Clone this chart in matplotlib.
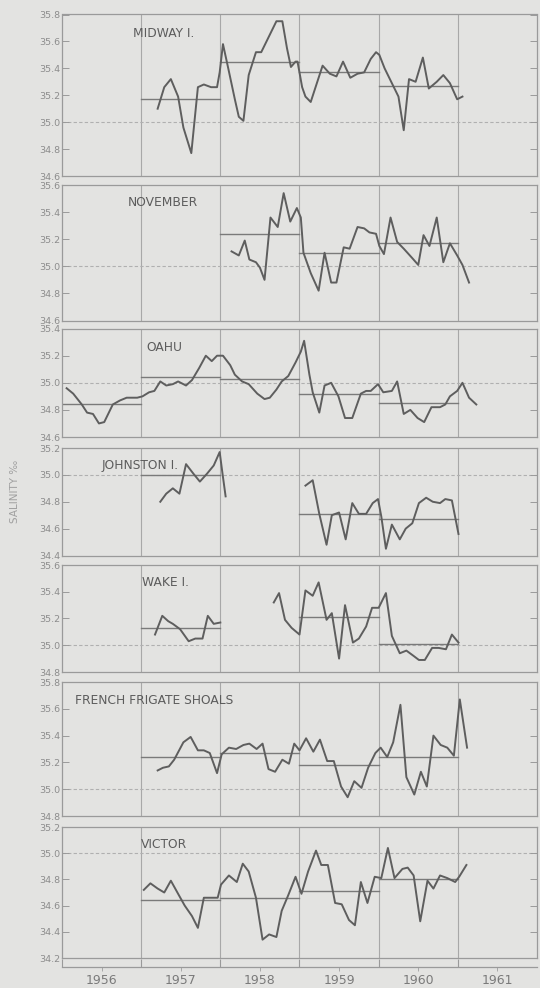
import numpy as np
import matplotlib.pyplot as plt

# salinity records, x in months since Jan 1956, NaN = gap in record
midway_m = [14.5, 15.5, 16.5, 17.6, 18.4, 19.6, 20.6, 21.5, 22.6, 23.5, 23.9, 24.4, 25.2, 26.2,
            26.8, 27.5, 28.3, 29.4, 30.2, 31.0, 32.5, 33.4, 34.1, 34.7, 35.4, 35.7, 36.4, 36.9,
            37.7, 38.5, 39.5, 40.6, 41.6, 42.6, 43.7, 44.8, 45.8, 46.8, 47.6, 48.1, 48.9, 50.0,
            51.0, 51.8, 52.6, 53.6, 54.7, 55.6, 56.8, 57.8, 58.8, 59.9, 60.7]
midway_s = [35.10, 35.26, 35.32, 35.19, 34.96, 34.77, 35.26, 35.28, 35.26, 35.26, 35.37, 35.58,
            35.40, 35.17, 35.04, 35.01, 35.35, 35.52, 35.52, 35.60, 35.75, 35.75, 35.55, 35.41,
            35.45, 35.45, 35.26, 35.19, 35.15, 35.27, 35.42, 35.36, 35.34, 35.45, 35.33, 35.36,
            35.37, 35.47, 35.52, 35.50, 35.40, 35.29, 35.19, 34.94, 35.32, 35.30, 35.48, 35.25,
            35.30, 35.35, 35.29, 35.17, 35.19]
midway_mean_yr = [1957, 1958, 1959, 1960]
midway_mean = [35.17, 35.45, 35.37, 35.27]

november_m = [25.7, 26.8, 27.7, 28.4, 29.4, 30.0, 30.7, 31.6, 32.7, 33.6, 34.6, 35.6, 36.2, 36.6,
              37.7, 38.9, 39.8, 40.8, 41.6, 42.7, 43.6, 44.8, 45.8, 46.6, 47.6, 48.1, 48.8, 49.8,
              50.8, 51.8, 53.1, 54.0, 54.8, 55.7, 56.8, 57.8, 58.8, 59.9, 60.7, 61.7]
november_s = [35.11, 35.08, 35.19, 35.05, 35.03, 34.99, 34.90, 35.36, 35.29, 35.54, 35.33, 35.43,
              35.36, 35.10, 34.95, 34.82, 35.10, 34.88, 34.88, 35.14, 35.13, 35.29, 35.28, 35.25,
              35.24, 35.15, 35.09, 35.36, 35.18, 35.13, 35.06, 35.01, 35.23, 35.15, 35.36, 35.03,
              35.17, 35.08, 35.01, 34.88]
november_mean_yr = [1958, 1959, 1960]
november_mean = [35.24, 35.10, 35.17]

oahu_m = [0.7, 1.7, 3.0, 3.8, 4.7, 5.6, 6.4, 7.7, 8.8, 9.8, 11.4, 12.2, 13.2, 14.0, 14.9, 15.8,
          16.8, 17.6, 18.8, 19.7, 20.8, 21.8, 22.7, 23.5, 24.4, 25.5, 26.2, 27.3, 28.3, 29.6,
          30.7, 31.5, 32.5, 33.3, 34.3, 35.4, 36.2, 36.7, 37.5, 38.0, 39.0, 39.8, 40.8, 41.9,
          42.9, 44.0, 45.3, 46.1, 46.8, 47.9, 48.7, 50.0, 50.8, 51.8, 52.8, 53.9, 54.9, 56.0,
          57.3, 58.1, 58.8, 59.9, 60.7, 61.7, 62.8]
oahu_s = [34.96, 34.92, 34.84, 34.78, 34.77, 34.70, 34.71, 34.84, 34.87, 34.89, 34.89, 34.90,
          34.93, 34.94, 35.01, 34.98, 34.99, 35.01, 34.98, 35.02, 35.11, 35.20, 35.16, 35.20,
          35.20, 35.13, 35.06, 35.01, 34.99, 34.92, 34.88, 34.89, 34.95, 35.01, 35.05, 35.15,
          35.23, 35.31, 35.06, 34.93, 34.78, 34.98, 35.00, 34.90, 34.74, 34.74, 34.92, 34.94,
          34.94, 34.99, 34.93, 34.94, 35.01, 34.77, 34.80, 34.74, 34.71, 34.82, 34.82, 34.84,
          34.90, 34.94, 35.00, 34.89, 34.84]
oahu_mean_yr = [1956, 1957, 1958, 1959, 1960]
oahu_mean = [34.84, 35.04, 35.03, 34.92, 34.85]

johnston_m = [14.9, 15.8, 16.8, 17.8, 18.8, 19.9, 20.9, 22.0, 23.0, 23.9, 24.3, 24.8, np.nan,
              36.9, 38.0, 39.0, 40.1, 40.9, 42.0, 43.0, 44.0, 45.0, 46.1, 47.1, 47.9, 48.4,
              49.1, 50.0, 51.2, 52.1, 53.1, 54.1, 55.2, 56.2, 57.3, 58.1, 59.1, 60.1]
johnston_s = [34.80, 34.86, 34.90, 34.86, 35.08, 35.01, 34.95, 35.01, 35.07, 35.17, 35.02, 34.84,
              np.nan, 34.92, 34.96, 34.71, 34.48, 34.70, 34.72, 34.52, 34.79, 34.71, 34.71,
              34.79, 34.82, 34.69, 34.45, 34.63, 34.52, 34.60, 34.64, 34.79, 34.83, 34.80,
              34.79, 34.82, 34.81, 34.56]
johnston_mean_yr = [1957, 1959, 1960]
johnston_mean = [35.00, 34.71, 34.67]

wake_m = [14.1, 15.2, 16.1, 16.8, 17.9, 19.2, 20.2, 21.3, 22.1, 23.0, 24.0, np.nan,
          32.1, 32.9, 33.8, 34.8, 36.0, 36.9, 38.0, 38.9, 40.1, 40.9, 42.0, 42.9, 44.1, 45.0,
          46.1, 47.0, 48.0, 49.1, 50.0, 51.2, 52.2, 53.3, 54.1, 55.0, 56.1, 57.1, 58.2, 59.1, 60.1]
wake_s = [35.08, 35.22, 35.18, 35.16, 35.12, 35.03, 35.05, 35.05, 35.22, 35.16, 35.17, np.nan,
          35.32, 35.39, 35.19, 35.13, 35.08, 35.41, 35.37, 35.47, 35.19, 35.24, 34.90, 35.30,
          35.02, 35.05, 35.14, 35.28, 35.28, 35.39, 35.07, 34.94, 34.96, 34.92, 34.89, 34.89,
          34.98, 34.98, 34.97, 35.08, 35.02]
wake_mean_yr = [1957, 1959, 1960]
wake_mean = [35.13, 35.21, 35.01]

ffs_m = [14.5, 15.3, 16.2, 17.0, 18.4, 19.5, 20.6, 21.5, 22.4, 23.5, 24.2, 25.3, 26.4, 27.5,
         28.4, 29.5, 30.4, 31.3, 32.3, 33.4, 34.4, 35.2, 36.0, 37.0, 38.1, 39.1, 40.2, 41.2,
         42.3, 43.3, 44.3, 45.4, 46.4, 47.5, 48.3, 49.3, 50.2, 51.3, 52.2, 53.4, 54.4, 55.3,
         56.3, 57.4, 58.4, 59.4, 60.3, 61.4]
ffs_s = [35.14, 35.16, 35.17, 35.22, 35.35, 35.39, 35.29, 35.29, 35.27, 35.12, 35.26, 35.31,
         35.30, 35.33, 35.34, 35.30, 35.34, 35.15, 35.13, 35.22, 35.19, 35.34, 35.29, 35.38,
         35.28, 35.37, 35.21, 35.21, 35.02, 34.94, 35.06, 35.01, 35.16, 35.27, 35.31, 35.24,
         35.35, 35.63, 35.09, 34.96, 35.13, 35.02, 35.40, 35.33, 35.31, 35.25, 35.67, 35.31]
ffs_mean_yr = [1957, 1958, 1959, 1960]
ffs_mean = [35.24, 35.27, 35.18, 35.24]

victor_m = [12.4, 13.4, 14.5, 15.5, 16.5, 17.6, 18.6, 19.7, 20.6, 21.5, 22.6, 23.6, 24.1, 25.3,
            26.5, 27.4, 28.3, 29.4, 30.4, 31.4, 32.5, 33.3, 34.3, 35.4, 36.3, 37.3, 38.5, 39.3,
            40.3, 41.4, 42.4, 43.5, 44.4, 45.3, 46.3, 47.4, 48.4, 49.4, 50.4, 51.6, 52.4, 53.3,
            54.3, 55.4, 56.3, 57.3, 58.4, 59.6, 60.2, 61.3]
victor_s = [34.72, 34.77, 34.73, 34.70, 34.79, 34.69, 34.60, 34.52, 34.43, 34.66, 34.66, 34.66,
            34.76, 34.83, 34.78, 34.92, 34.86, 34.66, 34.34, 34.38, 34.36, 34.56, 34.68, 34.82,
            34.69, 34.86, 35.02, 34.91, 34.91, 34.62, 34.61, 34.49, 34.45, 34.78, 34.62, 34.82,
            34.81, 35.04, 34.81, 34.88, 34.89, 34.83, 34.48, 34.79, 34.73, 34.83, 34.81, 34.78,
            34.82, 34.91]
victor_mean_yr = [1957, 1958, 1959, 1960]
victor_mean = [34.64, 34.66, 34.71, 34.80]

names = ["MIDWAY I.", "NOVEMBER", "OAHU", "JOHNSTON I.", "WAKE I.",
         "FRENCH FRIGATE SHOALS", "VICTOR"]
months = [midway_m, november_m, oahu_m, johnston_m, wake_m, ffs_m, victor_m]
sal = [midway_s, november_s, oahu_s, johnston_s, wake_s, ffs_s, victor_s]
mean_yr = [midway_mean_yr, november_mean_yr, oahu_mean_yr, johnston_mean_yr,
           wake_mean_yr, ffs_mean_yr, victor_mean_yr]
means = [midway_mean, november_mean, oahu_mean, johnston_mean, wake_mean,
         ffs_mean, victor_mean]
ylims = [(34.6, 35.8), (34.6, 35.6), (34.6, 35.4), (34.4, 35.2),
         (34.8, 35.6), (34.8, 35.8), (34.2, 35.2)]
years = [1956, 1957, 1958, 1959, 1960, 1961]

# label placement (x in years, y in salinity)
label_pos = [(1956.9, 35.66), (1956.83, 35.47), (1957.07, 35.26), (1956.5, 35.07),
             (1957.01, 35.47), (1956.16, 35.66), (1957.0, 35.07)]

# panel tops/bottoms in pixels of the 540x988 figure
tops = [14.5, 185, 328.6, 448, 565, 682, 827]
bots = [176, 320.5, 437, 555.5, 672, 816, 958]

bg = '#e3e3e1'
plt.rcParams['font.family'] = ['DejaVu Sans']
fig = plt.figure(figsize=(5.4, 9.88), dpi=100, facecolor=bg)

H = 988.0
left, width = 62 / 540, (537 - 62) / 540
axes = []
for i in range(7):
    ax = fig.add_axes([left, 1 - bots[i] / H, width, (bots[i] - tops[i]) / H])
    ax.set_facecolor(bg)
    lo, hi = ylims[i]
    ax.set_xlim(1956, 1962)
    ax.set_ylim(lo, hi)

    for yb in years[1:]:
        ax.axvline(yb, color='#a8a8a8', lw=0.8, zorder=1)
    ax.axhline(35.0, color='#b0b0b0', lw=0.8, ls=(0, (3, 2)), zorder=1)

    for y0, m in zip(mean_yr[i], means[i]):
        ax.plot([y0, y0 + 1], [m, m], color='#7a7a7a', lw=1.0, zorder=2)

    x = 1956 + np.array(months[i]) / 12.0
    ax.plot(x, sal[i], color='#5e5e5e', lw=1.4, zorder=3)

    ax.text(label_pos[i][0], label_pos[i][1], names[i], fontsize=8.8,
            color='#5c5c5c', va='center', ha='left')

    ticks = np.round(np.arange(lo, hi + 0.001, 0.2), 1)
    ax.set_yticks(ticks)
    ax.set_yticklabels(['%.1f' % t for t in ticks])
    ax.tick_params(axis='y', direction='in', length=5, width=0.7, colors='#9a9a9a',
                   labelcolor='#8c8c8c', labelsize=6.8, right=True, pad=1)
    ax.set_xticks([])
    for sp in ax.spines.values():
        sp.set_color('#9a9a9a')
        sp.set_linewidth(0.9)
    axes.append(ax)

# bracket axis with year labels below the last panel
bottom_ax = axes[-1]
sec = bottom_ax.secondary_xaxis(-0.07)
sec.set_xticks(years)
sec.set_xticklabels([])
sec.set_xticks([y + 0.5 for y in years], minor=True)
sec.set_xticklabels([str(y) for y in years], minor=True)
sec.tick_params(axis='x', which='major', direction='in', length=6, width=0.8,
                colors='#9a9a9a')
sec.tick_params(axis='x', which='minor', direction='out', length=3, width=0.7,
                colors='#a8a8a8', labelsize=9, labelcolor='#7a7a7a', pad=2)
sec.spines['bottom'].set_color('#9a9a9a')
sec.spines['bottom'].set_linewidth(0.9)

fig.text(0.028, 0.503, 'SALINITY \u2030', rotation=90, fontsize=7.5,
         color='#a0a0a0', ha='center', va='center')

fig.savefig('out.png', dpi=100, facecolor=bg)
